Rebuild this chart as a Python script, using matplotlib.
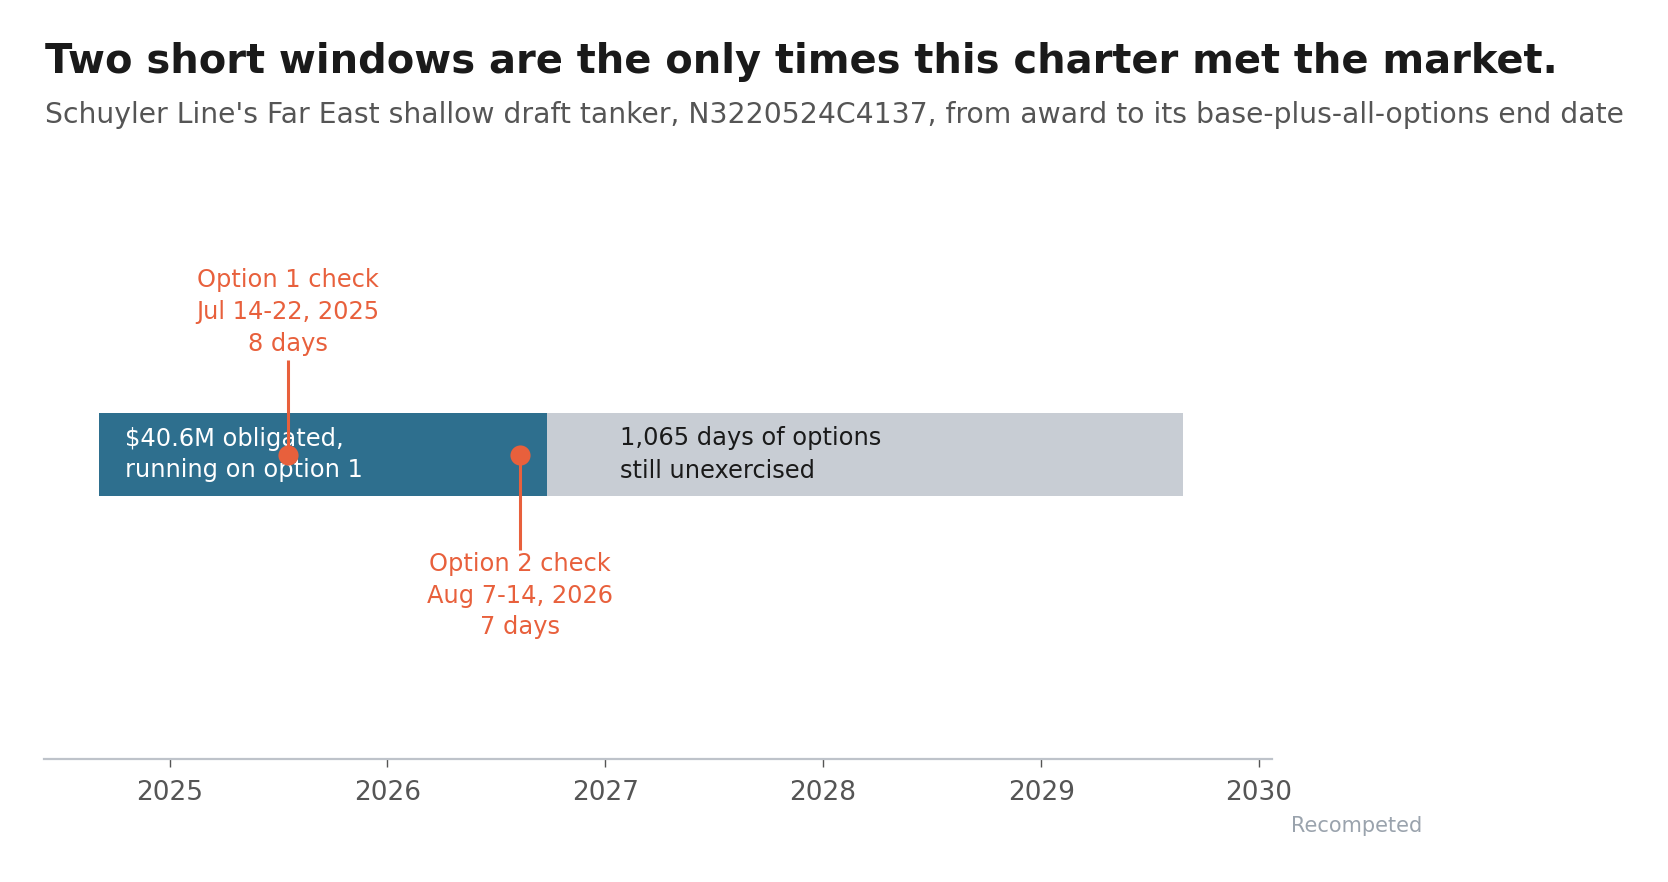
import matplotlib
matplotlib.use("Agg")
import matplotlib.pyplot as plt
import matplotlib.dates as mdates
from datetime import date

# ---- data ----
award_date = date(2024, 9, 4)
current_end = date(2026, 9, 26)
options_end = date(2029, 8, 26)
option_windows = [(date(2025, 7, 14), date(2025, 7, 22)), (date(2026, 8, 7), date(2026, 8, 14))]
option_labels = ["Option 1 check\nJul 14-22, 2025\n8 days", "Option 2 check\nAug 7-14, 2026\n7 days"]
obligated_label = "\\$40.6M obligated,\nrunning on option 1"
remaining_label = "1,065 days of options\nstill unexercised"
tick_years = [2025, 2026, 2027, 2028, 2029, 2030]
x_limits = (date(2024, 6, 5), date(2030, 1, 23))

title = "Two short windows are the only times this charter met the market."
subtitle = ("Schuyler Line's Far East shallow draft tanker, N3220524C4137, "
            "from award to its base-plus-all-options end date")
note = "Recompeted"

DARK = "#2E6F8E"
GREY = "#C8CDD4"
ORANGE = "#E8603C"

plt.rcParams['font.family'] = ['DejaVu Sans']
W, H, DPI = 1668, 882, 100
fig = plt.figure(figsize=(W / DPI, H / DPI), dpi=DPI)
fig.patch.set_facecolor("white")

ax = fig.add_axes([44.5 / W, 1 - 759 / H, (1272 - 44.5) / W, 609 / H])
ax.set_ylim(0, 1)
ax.set_xlim(mdates.date2num(x_limits[0]), mdates.date2num(x_limits[1]))

bar_y, bar_h = 0.5, 0.136
a0 = mdates.date2num(award_date)
a1 = mdates.date2num(current_end)
a2 = mdates.date2num(options_end)
ax.barh(bar_y, a1 - a0, left=a0, height=bar_h, color=DARK, linewidth=0)
ax.barh(bar_y, a2 - a1, left=a1, height=bar_h, color=GREY, linewidth=0)

ax.annotate(obligated_label, xy=(a0, bar_y), xytext=(19, 0), textcoords="offset points",
            ha="left", va="center", color="white", fontsize=17.4, linespacing=1.35)
ax.annotate(remaining_label, xy=(a1, bar_y), xytext=(52, 0), textcoords="offset points",
            ha="left", va="center", color="#1a1a1a", fontsize=17.4, linespacing=1.45)

line_ends = [0.655, 0.343]
text_y = [0.734, 0.268]
for (s, e), lab, ly, ty in zip(option_windows, option_labels, line_ends, text_y):
    mid = (mdates.date2num(s) + mdates.date2num(e)) / 2
    ax.plot([mid, mid], [bar_y, ly], color=ORANGE, lw=2.2, solid_capstyle="butt", zorder=3)
    ax.plot([mid], [bar_y], "o", color=ORANGE, markersize=14.5, zorder=4, markeredgewidth=0)
    ax.text(mid, ty, lab, ha="center", va="center", color=ORANGE, fontsize=17.4, linespacing=1.4)

ax.set_xticks([mdates.date2num(date(y, 1, 1)) for y in tick_years])
ax.set_xticklabels([str(y) for y in tick_years])
ax.set_yticks([])
for sp in ["top", "right", "left"]:
    ax.spines[sp].set_visible(False)
ax.spines["bottom"].set_color("#BEC3CA")
ax.spines["bottom"].set_linewidth(1.6)
ax.tick_params(axis="x", colors="#555555", labelsize=19, length=6, width=1, pad=9)
ax.set_facecolor("white")

fig.text(45 / W, 1 - 62 / H, title, ha="left", va="center", fontsize=28.8, fontweight="bold", color="#1a1a1a")
fig.text(45 / W, 1 - 115 / H, subtitle, ha="left", va="center", fontsize=20.3, color="#555555")
fig.text(1422 / W, 1 - 826 / H, note, ha="right", va="center", fontsize=15, color="#9AA3AD")

fig.savefig("out.png", dpi=DPI)
